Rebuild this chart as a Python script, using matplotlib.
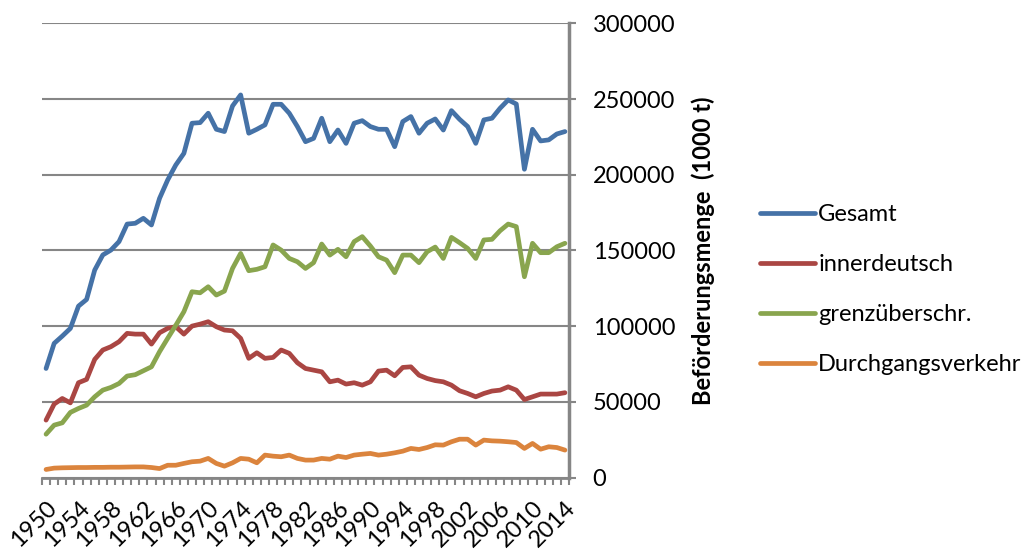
import numpy as np
import matplotlib
matplotlib.use("Agg")
import matplotlib.pyplot as plt

years = list(range(1950, 2015))

gesamt = [72000, 88600, 93400, 98500, 113200, 117600, 137000, 147000, 150200, 155800,
          167400, 167900, 171200, 166800, 184400, 196500, 206400, 214100, 234000, 234400,
          240600, 230000, 228500, 245400, 252700, 227400, 230000, 232900, 246500, 246500,
          240600, 231800, 221800, 224000, 237300, 221800, 229500, 220700, 234000, 235700,
          231800, 230000, 230000, 218500, 235100, 238400, 227400, 234000, 236800, 229500,
          242300, 236600, 231800, 220700, 236200, 237300, 243900, 249400, 246700, 203600,
          230000, 222300, 223000, 226900, 228500]

innerdeutsch = [37900, 48500, 52200, 49300, 62600, 64800, 78000, 84200, 86400, 89700,
                95200, 94700, 94700, 88100, 95600, 98500, 99600, 94700, 100000, 101300,
                102900, 99600, 97400, 96900, 91900, 78700, 82400, 78700, 79300, 84200,
                82000, 75800, 72000, 70900, 69800, 63200, 64300, 61700, 62600, 61000,
                63200, 70300, 70900, 67200, 72700, 73100, 67600, 65400, 64000, 63200,
                61000, 57300, 55500, 53300, 55500, 57100, 57700, 59900, 57700, 51500,
                53300, 55100, 55100, 55100, 56000]

grenzueberschr = [28600, 34600, 36100, 43000, 45600, 47800, 53300, 57700, 59500, 62100,
                  67000, 67900, 70500, 73100, 83100, 91900, 100500, 109500, 122700, 122000,
                  126000, 120500, 123100, 138100, 148000, 136600, 137500, 139200, 153600, 150200,
                  144700, 142500, 138100, 141900, 154200, 146900, 150700, 145800, 155800, 159100,
                  152900, 145800, 143600, 135300, 146900, 146900, 141900, 149100, 152200, 144700,
                  158600, 155100, 151300, 144700, 156900, 157300, 163000, 167400, 165700, 132600,
                  154700, 148500, 148500, 152400, 154700]

durchgang = [5300, 6200, 6400, 6500, 6600, 6600, 6700, 6700, 6800, 6800,
             6900, 7000, 7000, 6600, 5900, 8100, 8100, 9300, 10400, 10800,
             12600, 9300, 7500, 9700, 12600, 12100, 9700, 14800, 14100, 13700,
             14800, 12600, 11500, 11500, 12600, 12100, 14100, 13200, 14800, 15400,
             15900, 14800, 15400, 16300, 17400, 19200, 18500, 19800, 21600, 21400,
             23600, 25300, 25300, 21400, 24700, 24200, 24000, 23600, 23100, 19200,
             22500, 18700, 20300, 19800, 18100]

series_names = ["Gesamt", "innerdeutsch", "grenzüberschr.", "Durchgangsverkehr"]
colors = ["#4572A7", "#AA4643", "#89A54E", "#DB843D"]

plt.rcParams['font.family'] = ['Lato', 'DejaVu Sans']

fig = plt.figure(figsize=(10.3, 5.52), dpi=100)
ax = fig.add_axes([42 / 1030, 1 - 477.5 / 552, (569 - 42) / 1030, (477.5 - 23.3) / 552])

x = np.arange(len(years))
for data, name, col in zip([gesamt, innerdeutsch, grenzueberschr, durchgang], series_names, colors):
    ax.plot(x, data, color=col, linewidth=3.4, label=name, solid_capstyle='round', solid_joinstyle='round')

ax.set_xlim(-0.5, len(years) - 0.5)
ax.set_ylim(0, 300000)

# y axis on the right side
ax.yaxis.tick_right()
ax.yaxis.set_label_position("right")
ax.set_yticks(range(0, 300001, 50000))
ax.set_yticklabels([str(v) for v in range(0, 300001, 50000)])
ax.tick_params(axis='y', which='major', length=5, width=1.5, color='#868686',
               labelsize=17, pad=12)
for lbl in ax.get_yticklabels():
    lbl.set_horizontalalignment('left')
ax.grid(axis='y', color='#868686', linewidth=1.5)
ax.set_axisbelow(True)
ax.set_ylabel("Beförderungsmenge  (1000 t)", fontsize=17, fontweight='bold', labelpad=12)

# category axis: tick marks between years, labels every 4 years
label_pos = x[::4]
ax.set_xticks(label_pos)
ax.set_xticklabels([str(years[i]) for i in label_pos], rotation=45, ha='right',
                   rotation_mode='anchor', fontsize=17)
ax.set_xticks(np.arange(-0.5, len(years), 1), minor=True)
ax.tick_params(axis='x', which='major', length=0, pad=14)
ax.tick_params(axis='x', which='minor', length=5, width=1.5, color='#868686')

for side in ['top', 'left']:
    ax.spines[side].set_visible(False)
ax.spines['bottom'].set_color('#868686')
ax.spines['bottom'].set_linewidth(2)
ax.spines['right'].set_color('#868686')
ax.spines['right'].set_linewidth(2.5)

fig.legend(loc='upper left', bbox_to_anchor=(751 / 1030, 1 - 195 / 552), frameon=False,
           fontsize=17, handlelength=2.3, handletextpad=0.15, labelspacing=1.22,
           borderaxespad=0)

fig.savefig("out.png", dpi=100)
